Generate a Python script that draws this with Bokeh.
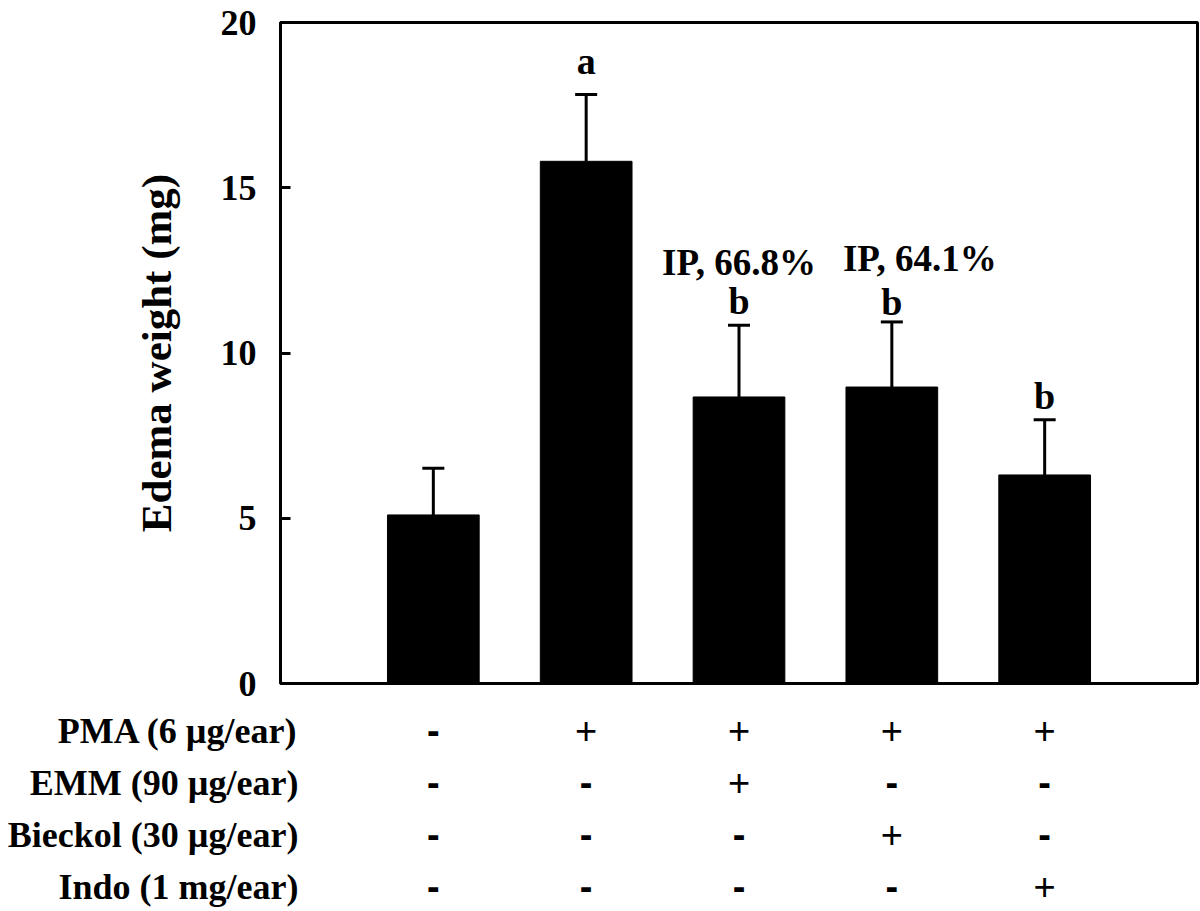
from bokeh.plotting import figure
from bokeh.models import Range1d, ColumnDataSource, FixedTicker
from bokeh.layouts import column
from bokeh.embed import file_html
from bokeh.resources import INLINE
from bokeh.core.properties import value

# ---- data ----
groups = [1, 2, 3, 4, 5]
means = [5.10, 15.80, 8.67, 8.97, 6.31]
errors = [1.41, 2.02, 2.17, 1.97, 1.67]
letters = ["", "a", "b", "b", "b"]
ip_labels = ["", "", "IP, 66.8%", "IP, 64.1%", ""]
row_names = ["PMA (6 µg/ear)", "EMM (90 µg/ear)", "Bieckol (30 µg/ear)", "Indo (1 mg/ear)"]
treatments = [
    ["-", "+", "+", "+", "+"],
    ["-", "-", "+", "-", "-"],
    ["-", "-", "-", "+", "-"],
    ["-", "-", "-", "-", "+"],
]
y_ticks = [0, 5, 10, 15, 20]
y_label = "Edema weight (mg)"

# ---- layout / style ----
SERIF = "Liberation Serif"
SANS = "Liberation Sans"
W = 1200
LEFT = 280
RIGHT = 3
MAIN_H = 706
TABLE_H = 911 - MAIN_H
ip_dx = [0, 0, 0, 28, 0]     # horizontal nudge (px) of the IP labels
letter_dy = [-24, -34, -24, -20, -24]

p = figure(width=W, height=MAIN_H, x_range=Range1d(0, 6), y_range=Range1d(0, 20),
           output_backend="svg", toolbar_location=None,
           min_border_left=LEFT, min_border_right=RIGHT, min_border_top=22, min_border_bottom=23)
p.background_fill_color = "white"
p.border_fill_color = "white"
p.grid.visible = False
p.xaxis.visible = False
p.outline_line_color = "black"
p.outline_line_width = 3

ax = p.yaxis[0]
ax.ticker = FixedTicker(ticks=y_ticks)
ax.axis_line_width = 3
ax.major_tick_in = 10
ax.major_tick_out = 0
ax.major_tick_line_width = 3
ax.minor_tick_line_color = None
ax.major_label_text_font = SERIF
ax.major_label_text_font_style = "bold"
ax.major_label_text_font_size = "36px"
ax.major_label_text_color = "black"
ax.major_label_standoff = 24
ax.axis_label = y_label
ax.axis_label_text_font = SERIF
ax.axis_label_text_font_style = "bold"
ax.axis_label_text_font_size = "43px"
ax.axis_label_text_color = "black"
ax.axis_label_standoff = 38

tops = [m + e for m, e in zip(means, errors)]
src = ColumnDataSource(dict(x=groups, top=means, etop=tops,
                            xl=[g - 0.072 for g in groups], xr=[g + 0.072 for g in groups],
                            letter=letters, ip=ip_labels, dx=ip_dx, ldy=letter_dy))

p.vbar(x="x", top="top", bottom=0, width=0.6, source=src, fill_color="black", line_color="black")
p.segment(x0="x", y0="top", x1="x", y1="etop", source=src, line_color="black", line_width=3)
p.segment(x0="xl", y0="etop", x1="xr", y1="etop", source=src, line_color="black", line_width=3)

p.text(x="x", y="etop", text="letter", source=src, text_align="center", text_baseline="alphabetic",
       y_offset="ldy", text_font=value(SERIF), text_font_style="bold", text_font_size="38px",
       text_color="black")
p.text(x="x", y="etop", text="ip", source=src, text_align="center", text_baseline="alphabetic",
       x_offset="dx", y_offset=-63, text_font=value(SERIF), text_font_style="bold",
       text_font_size="37px", text_color="black")

# ---- treatment table below the plot ----
row_top = 24
row_step = 52
n_rows = len(row_names)
rows_idx = list(range(n_rows))
t = figure(width=W, height=TABLE_H, x_range=p.x_range,
           y_range=Range1d((TABLE_H - row_top) / row_step, -row_top / row_step),
           output_backend="svg", toolbar_location=None,
           min_border_left=LEFT, min_border_right=RIGHT, min_border_top=0, min_border_bottom=0)
t.xaxis.visible = False
t.grid.visible = False
t.outline_line_color = None
t.background_fill_color = "white"
t.border_fill_color = "white"

ta = t.yaxis[0]
ta.ticker = FixedTicker(ticks=rows_idx)
ta.major_label_overrides = {i: name for i, name in zip(rows_idx, row_names)}
ta.axis_line_color = None
ta.major_tick_line_color = None
ta.minor_tick_line_color = None
ta.major_tick_in = 0
ta.major_tick_out = 0
ta.major_label_standoff = -18
ta.major_label_text_font = SERIF
ta.major_label_text_font_style = "bold"
ta.major_label_text_font_size = "36px"
ta.major_label_text_color = "black"

px_, py_, pt_, mx_, my_, mt_ = [], [], [], [], [], []
for i, row in enumerate(treatments):
    for g, s in zip(groups, row):
        if s == "+":
            px_.append(g); py_.append(i); pt_.append(s)
        else:
            mx_.append(g); my_.append(i); mt_.append(s)
t.text(x="x", y="y", text="t", source=ColumnDataSource(dict(x=px_, y=py_, t=pt_)),
       text_align="center", text_baseline="middle", text_font=value(SANS),
       text_font_size="38px", text_color="black")
t.text(x="x", y="y", text="t", source=ColumnDataSource(dict(x=mx_, y=my_, t=mt_)),
       text_align="center", text_baseline="middle", text_font=value(SANS),
       text_font_style="bold", text_font_size="38px", text_color="black")

layout = column(p, t, spacing=0)
open("out.html", "w").write(file_html(layout, INLINE))
